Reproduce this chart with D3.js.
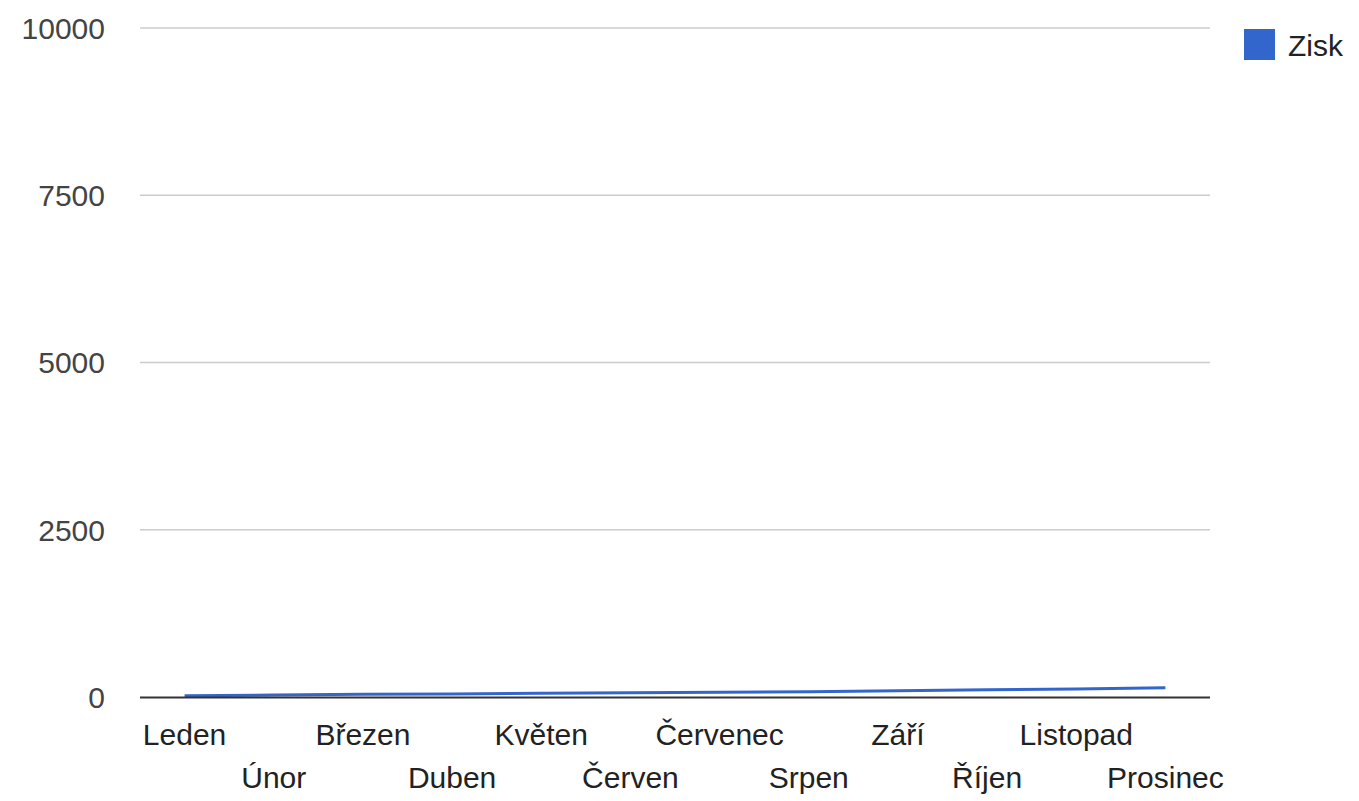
<!DOCTYPE html>
<html><head><meta charset="utf-8">
<script src="https://cdn.jsdelivr.net/npm/d3@7"></script>
<style>body{margin:0;background:#fff;} text{font-family:"Liberation Sans",Arial,sans-serif;}</style>
</head><body>
<svg id="c" width="1359" height="801"></svg>
<script>
const months = ["Leden","Únor","Březen","Duben","Květen","Červen","Červenec","Srpen","Září","Říjen","Listopad","Prosinec"];
const zisk = [20,30,40,45,55,65,70,80,95,110,120,140];
const yTicks = [0,2500,5000,7500,10000];
const seriesName = "Zisk";

(function(){
const svg = d3.select("#c");
const pLeft = 140, pRight = 1210, pTop = 28, pBottom = 697;
const x = d3.scaleBand().domain(months).range([pLeft, pRight]);
const y = d3.scaleLinear().domain([0,10000]).range([pBottom, pTop]);
const fs = 30;

// gridlines
svg.append("g").selectAll("line").data(yTicks.filter(d=>d>0)).join("line")
  .attr("x1", pLeft).attr("x2", pRight)
  .attr("y1", d=>y(d)).attr("y2", d=>y(d))
  .attr("stroke","#cccccc").attr("stroke-width",1.5);

// y labels
svg.append("g").selectAll("text").data(yTicks).join("text")
  .attr("x", 105).attr("y", d=>y(d)).attr("dy","0.36em")
  .attr("text-anchor","end").attr("font-size",fs).attr("fill","#444")
  .text(d=>d);

// line
const line = d3.line().x((d,i)=>x(months[i])+x.bandwidth()/2).y(d=>y(d));
svg.append("path").datum(zisk).attr("d", line)
  .attr("fill","none").attr("stroke","#3366cc").attr("stroke-width",3);

// baseline
svg.append("line").attr("x1",pLeft).attr("x2",pRight)
  .attr("y1",y(0)+0.5).attr("y2",y(0)+0.5)
  .attr("stroke","#333").attr("stroke-width",2);

// x labels alternating
svg.append("g").selectAll("text").data(months).join("text")
  .attr("x", d=>x(d)+x.bandwidth()/2)
  .attr("y", (d,i)=> i%2===0 ? 745 : 788)
  .attr("text-anchor","middle").attr("font-size",fs).attr("fill","#222")
  .text(d=>d);

// legend
svg.append("rect").attr("x",1244).attr("y",29).attr("width",31).attr("height",31).attr("fill","#3366cc");
svg.append("text").attr("x",1288).attr("y",45).attr("dy","0.36em")
  .attr("font-size",fs).attr("fill","#222").text(seriesName);
})();
</script>
</body></html>
